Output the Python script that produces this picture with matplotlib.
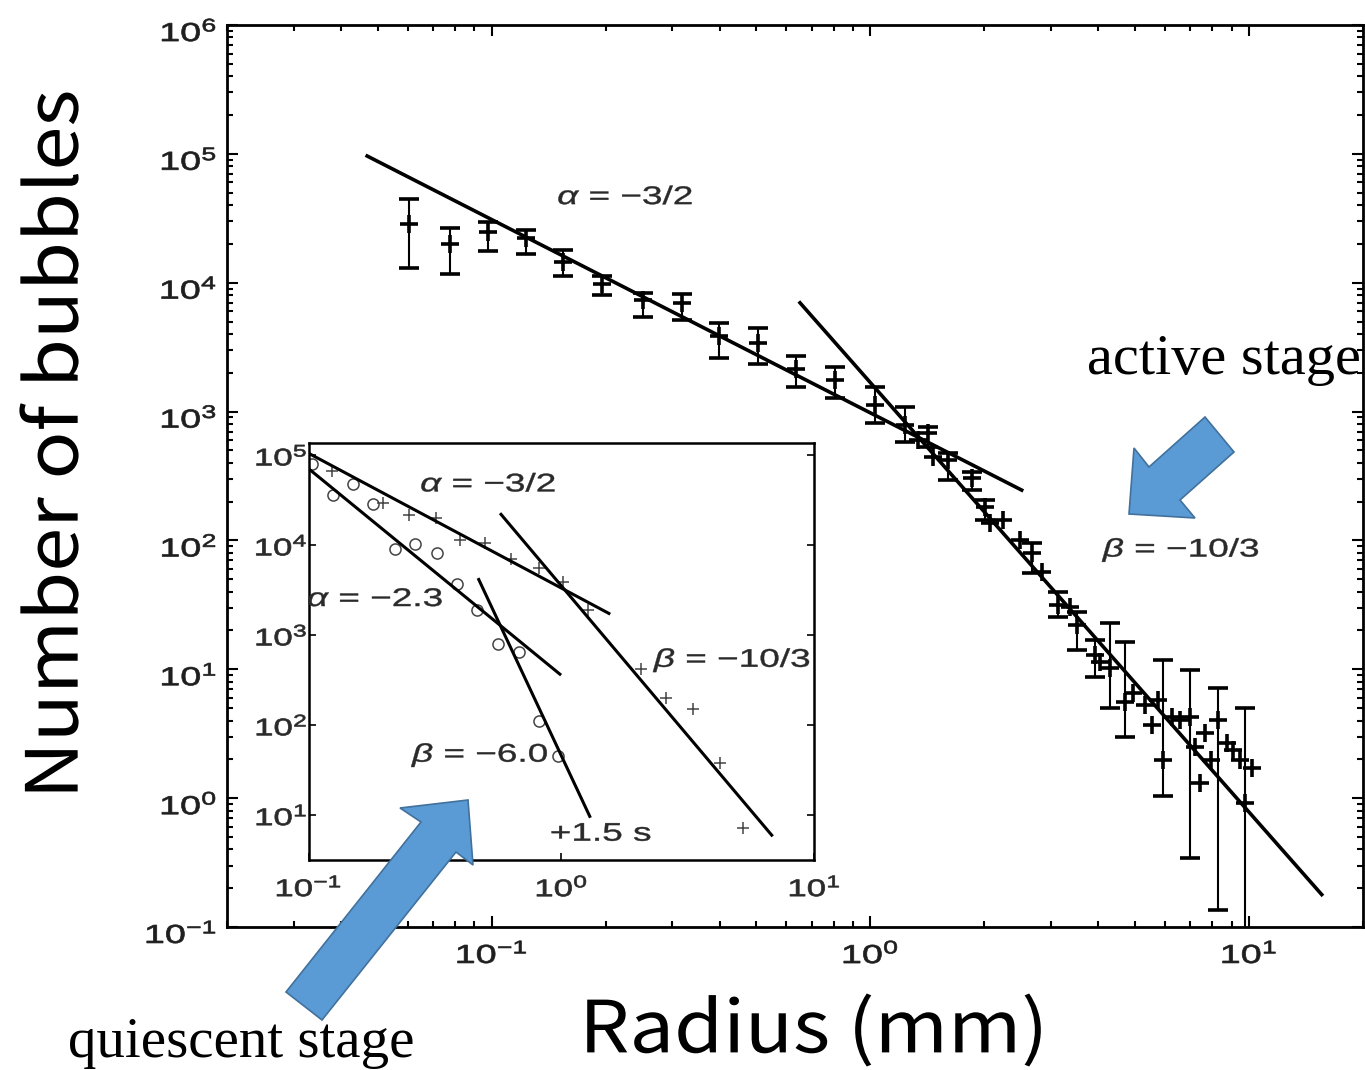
import numpy as np
import matplotlib
matplotlib.use('Agg')
from matplotlib import pyplot as plt
from matplotlib.patches import Polygon, PathPatch
from matplotlib.textpath import TextPath
from matplotlib.font_manager import FontProperties
from matplotlib.transforms import Affine2D
from matplotlib.ticker import LogLocator, NullLocator

plt.rcParams['font.family'] = ['Liberation Sans', 'DejaVu Sans']
plt.rcParams['mathtext.fontset'] = 'custom'
plt.rcParams['mathtext.rm'] = 'Liberation Sans'
plt.rcParams['mathtext.it'] = 'Liberation Sans:italic'
plt.rcParams['mathtext.default'] = 'regular'

# Main panel: bubble counts with error bars (radius in mm)
r_err = [0.0606, 0.0776, 0.0979, 0.1229, 0.1545, 0.1957, 0.2513, 0.3175, 0.399, 0.506,
         0.636, 0.806, 1.028, 1.234, 1.422, 1.606, 1.851, 2.007, 2.666, 3.134,
         3.505, 3.918, 4.293, 4.702, 5.935, 6.98, 8.29, 9.75]
n_err = [28550, 19880, 24890, 22120, 14560, 9830, 7340, 6920, 3860, 3420,
         2130, 1760, 1125, 787, 678, 421, 304, 183, 79.5, 31.6,
         22.1, 12.9, 10.2, 5.61, 1.977, 4.29, 4.04, 0.912]
n_low = [12940, 11690, 17720, 16710, 11280, 7960, 5450, 5140, 2590, 2330,
         1560, 1270, 811, 584, 534, 294, 246, 144, 55.6, 25.6,
         14.1, 8.76, 4.98, 3.0, 1.03, 0.341, 0.1355, 0.09]
n_high = [44400, 26730, 29760, 25650, 17950, 11220, 8370, 8180, 4840, 4430,
          2700, 2230, 1560, 1091, 763, 474, 342, 206, 95, 39.8,
          28, 16.9, 22.7, 16.38, 11.8, 9.87, 7.12, 4.98]

# extra bins drawn without error bars
r_pts = [1.338, 1.466, 2.069, 2.243, 2.483, 2.833, 3.366, 4.04, 4.945, 5.31, 5.53,
         5.76, 6.25, 6.57, 7.20, 7.42, 7.65, 7.96, 8.73, 9.08, 9.46, 10.16]
n_pts = [601.8, 446.6, 135.8, 144, 100.8, 57.2, 30.6, 11.46, 6.51, 5.28, 3.70,
         5.78, 4.29, 4.04, 2.51, 1.30, 3.19, 1.98, 2.67, 2.36, 1.98, 1.70]

# power-law fits: (slope, log10 prefactor, r_min, r_max)
main_fits = [(-1.5, 2.99, 0.0469, 2.51),
             (-10 / 3, 3.225, 0.652, 15.56)]

# Inset: two time instants
ins_r_circ = [0.1028, 0.1245, 0.1503, 0.1807, 0.2188, 0.2636, 0.3214, 0.3864,
              0.4634, 0.5610, 0.6792, 0.8166, 0.9661]
ins_n_circ = [80700, 35970, 48420, 29040, 9183, 10250, 8222, 3750,
              1897, 807, 653, 111.7, 45.3]
ins_r_plus = [0.1233, 0.1972, 0.2500, 0.3192, 0.3963, 0.4966, 0.6339, 0.8166,
              1.014, 1.2706, 2.070, 2.594, 3.311, 4.227, 5.212]
ins_n_plus = [66990, 29510, 21530, 20280, 11380, 10620, 7112, 5649,
              3917, 1897, 416, 197.7, 149.3, 37.5, 7.11]
ins_fits = [(-1.5, 3.523, 0.1018, 1.54),
            (-2.3, 2.552, 0.1, 0.986),
            (-6.0, 1.657, 0.471, 1.294),
            (-10 / 3, 3.547, 0.577, 6.78)]

main_xexp = [-1, 0, 1]
main_yexp = [-1, 0, 1, 2, 3, 4, 5, 6]
ins_xexp = [-1, 0, 1]
ins_yexp = [1, 2, 3, 4, 5]

W, H = 1365, 1070
fig = plt.figure(figsize=(W / 100, H / 100), dpi=100)

sans = FontProperties(family='Liberation Sans')
cjk = FontProperties(family='Noto Sans CJK JP')


def wide_text(x, y, s, size, sx=1.5, prop=sans, color='#1e1e1e',
              ha='center', va='center', rot=0, lw=0.5, z=6):
    # text drawn as a path so it can be widened; x, y in display pixels
    path = TextPath((0, 0), s, size=size, prop=prop)
    ext = path.get_extents()
    ox = {'left': ext.x0, 'center': (ext.x0 + ext.x1) / 2, 'right': ext.x1}[ha]
    oy = {'bottom': ext.y0, 'center': (ext.y0 + ext.y1) / 2, 'top': ext.y1}[va]
    tr = Affine2D().translate(-ox, -oy).scale(sx, 1).rotate_deg(rot).translate(x, y)
    fig.add_artist(PathPatch(path, transform=tr, facecolor=color,
                             edgecolor=color, lw=lw, zorder=z))


ax = fig.add_axes([227 / W, 1 - 927 / H, 1136 / W, 902 / H])
ax.set_xscale('log')
ax.set_yscale('log')
ax.set_xlim(0.02, 20)
ax.set_ylim(0.1, 1e6)

yerr = [np.array(n_err) - np.array(n_low), np.array(n_high) - np.array(n_err)]
ax.errorbar(r_err, n_err, yerr=yerr, fmt='+', ms=13, mew=2.6, color='k',
            ecolor='k', elinewidth=1.5, capsize=7, capthick=1.6, zorder=3)
ax.plot(r_pts, n_pts, '+', ms=13, mew=2.6, color='k', zorder=3)

for slope, loga, r0, r1 in main_fits:
    rr = np.array([r0, r1])
    ax.plot(rr, 10 ** loga * rr ** slope, color='k', lw=2.6, zorder=4)

ax.xaxis.set_major_locator(LogLocator(base=10, numticks=20))
ax.yaxis.set_major_locator(LogLocator(base=10, numticks=20))
ax.xaxis.set_minor_locator(LogLocator(base=10, subs=np.arange(2, 10), numticks=20))
ax.yaxis.set_minor_locator(LogLocator(base=10, subs=np.arange(2, 10), numticks=20))
ax.tick_params(which='both', direction='in', top=True, right=True, width=1.5,
               labelbottom=False, labelleft=False)
ax.tick_params(which='major', length=8)
ax.tick_params(which='minor', length=4)
for s in ax.spines.values():
    s.set_linewidth(2)

# inset panel
axi = fig.add_axes([308.5 / W, 1 - 860 / H, 505.9 / W, 417.3 / H])
axi.set_xscale('log')
axi.set_yscale('log')
axi.set_xlim(0.1, 10)
axi.set_ylim(10 ** 0.5, 10 ** 5.14)
axi.plot(ins_r_circ, ins_n_circ, 'o', ms=8, mfc='none', mec='#444444', mew=1.1)
axi.plot(ins_r_plus, ins_n_plus, '+', ms=8, color='#444444', mew=1.1)
for slope, loga, r0, r1 in ins_fits:
    rr = np.array([r0, r1])
    axi.plot(rr, 10 ** loga * rr ** slope, color='k', lw=2.2)

axi.xaxis.set_major_locator(LogLocator(base=10, numticks=10))
axi.yaxis.set_major_locator(LogLocator(base=10, numticks=10))
axi.xaxis.set_minor_locator(NullLocator())
axi.yaxis.set_minor_locator(NullLocator())
axi.tick_params(which='major', direction='in', right=True, length=5, width=1.2,
                labelbottom=False, labelleft=False)
for s in axi.spines.values():
    s.set_linewidth(1.8)

# tick labels, widened like the rest of the lettering
x0, y0 = ax.transAxes.transform((0, 0))
for e in main_xexp:
    px = ax.transData.transform((10.0 ** e, 1))[0]
    wide_text(px, y0 - 25, f'$10^{{{e}}}$', 26, sx=1.45)
for e in main_yexp:
    py = ax.transData.transform((1, 10.0 ** e))[1]
    wide_text(x0 - 12, py - 5, f'$10^{{{e}}}$', 26, sx=1.45, ha='right')

ix0, iy0 = axi.transAxes.transform((0, 0))
for e in ins_xexp:
    px = axi.transData.transform((10.0 ** e, 10))[0]
    wide_text(px, iy0 - 26, f'$10^{{{e}}}$', 24, sx=1.45, color='#2a2a2a')
for e in ins_yexp:
    py = axi.transData.transform((1, 10.0 ** e))[1]
    wide_text(ix0 - 3, py, f'$10^{{{e}}}$', 24, sx=1.45, ha='right',
              color='#2a2a2a')

# slope annotations
for a, xv, yv, s in [(ax, 0.2249, 47970, r'$\mathit{\alpha}$ = −3/2'),
                     (ax, 6.57, 84.3, r'$\mathit{\beta}$ = −10/3'),
                     (axi, 0.512, 50100, r'$\mathit{\alpha}$ = −3/2'),
                     (axi, 0.183, 2640, r'$\mathit{\alpha}$ = −2.3'),
                     (axi, 4.68, 527, r'$\mathit{\beta}$ = −10/3'),
                     (axi, 0.472, 46.4, r'$\mathit{\beta}$ = −6.0'),
                     (axi, 1.432, 6.47, '+1.5 s')]:
    px, py = a.transData.transform((xv, yv))
    wide_text(px, py, s, 25.5, sx=1.45, color='#2a2a2a', lw=0.3)

# axis titles
wide_text(49, H - 442, 'Number of bubbles', 72, sx=1.1, prop=cjk,
          color='black', rot=90, lw=0)
wide_text(814, H - 1030, 'Radius (mm)', 72, sx=1.1, prop=cjk, color='black',
          lw=0)

# stage callouts
fig.text(1087 / W, 1 - 360 / H, 'active stage', fontsize=42,
         family=['Liberation Serif'], ha='left', va='center')
fig.text(68 / W, 1 - 1043 / H, 'quiescent stage', fontsize=41,
         family=['Liberation Serif'], ha='left', va='center')

arrow_active = [(1129, 514), (1134, 448), (1149, 467), (1205, 417),
                (1234, 452), (1180, 500), (1195, 518)]
arrow_quiet = [(468, 800), (400, 808), (421, 822), (286, 992),
               (322, 1020), (456, 852), (473, 865)]
for pts in (arrow_active, arrow_quiet):
    verts = [(x / W, 1 - y / H) for x, y in pts]
    fig.add_artist(Polygon(verts, closed=True, transform=fig.transFigure,
                           facecolor='#5B9BD5', edgecolor='#41719C', lw=1.2,
                           zorder=10))

fig.savefig('out.png', dpi=100)
